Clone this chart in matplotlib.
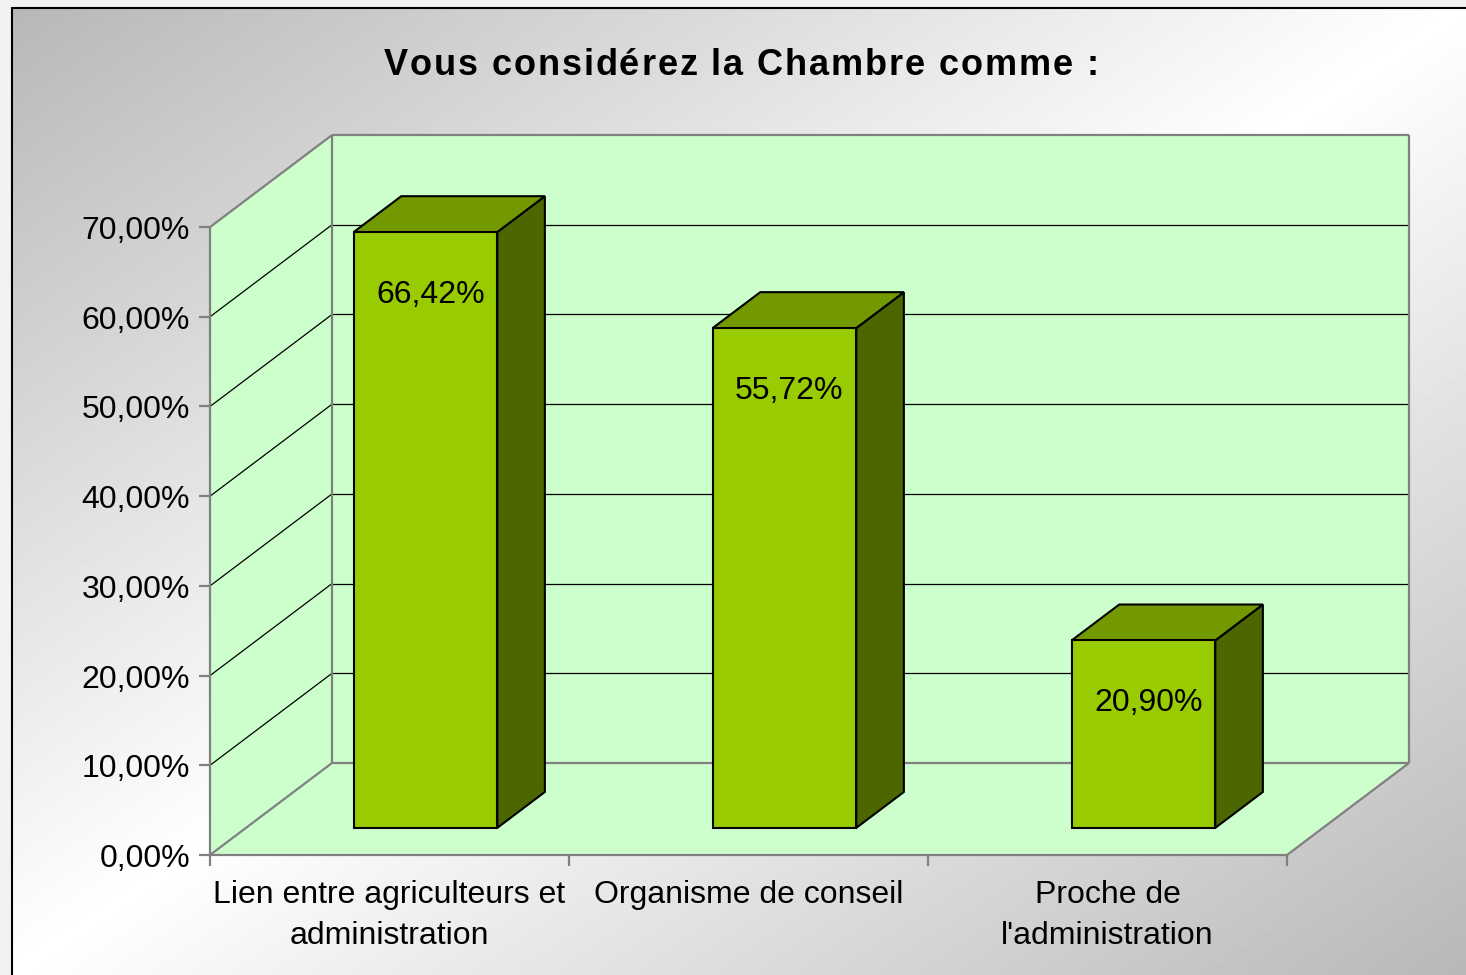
import numpy as np
import matplotlib.pyplot as plt
from matplotlib.patches import Polygon, Rectangle

plt.rcParams['font.family'] = ['Liberation Sans', 'DejaVu Sans']

title = "Vous considérez la Chambre comme :"
categories = ["Lien entre agriculteurs et\nadministration",
              "Organisme de conseil",
              "Proche de\nl'administration"]
values = [66.42, 55.72, 20.90]
value_labels = ["66,42%", "55,72%", "20,90%"]
ticks = [0, 10, 20, 30, 40, 50, 60, 70]
tick_labels = ["0,00%", "10,00%", "20,00%", "30,00%",
               "40,00%", "50,00%", "60,00%", "70,00%"]

W, H = 1466, 975
CAT_PX = 359.0          # pixels per category on the front plane
PCT_PX = 8.97           # pixels per percent
X0, Y0 = 210, 855       # pixel position of the origin (front plane)
DX, DY = 122 / CAT_PX, 92 / PCT_PX   # full depth offset, data units
VMAX = 70
N = len(categories)

WALL = "#ccffcc"
EDGE = "#808080"
FRONT, TOP, SIDE = "#99cc00", "#739900", "#4c6600"


def proj(x, v, d):
    return (x + d * DX, v + d * DY)


def seg(ax, a, b, **kw):
    ax.plot([a[0], b[0]], [a[1], b[1]], solid_capstyle='butt', **kw)


def face(ax, pts, color, z):
    ax.add_patch(Polygon(pts, closed=True, facecolor=color,
                         edgecolor='black', lw=1.5, joinstyle='miter', zorder=z))


fig = plt.figure(figsize=(W / 100, H / 100), dpi=100)
fig.patch.set_facecolor('#f2f2f2')
ax = fig.add_axes([0, 0, 1, 1])
ax.set_xlim(-X0 / CAT_PX, (W - X0) / CAT_PX)
ax.set_ylim(-(H - Y0) / PCT_PX, Y0 / PCT_PX)
ax.axis('off')

# background gradient inside the frame
xl, yl = ax.get_xlim(), ax.get_ylim()
fx0 = xl[0] + 12 / CAT_PX
fy1 = yl[1] - 8 / PCT_PX
GX, GY = np.meshgrid(np.linspace(0, 1, 300), np.linspace(0, 1, 200))
shade = 1 - 0.28 * np.abs((GX + GY) / 2 - 0.5) * 2
ax.imshow(shade, cmap='gray', vmin=0, vmax=1, origin='upper',
          extent=[fx0, xl[1], yl[0], fy1], aspect='auto', zorder=0,
          interpolation='bilinear')
ax.add_patch(Rectangle((fx0, yl[0] - 5), xl[1] - fx0 + 5, fy1 - yl[0] + 5,
                       fill=False, edgecolor='black', lw=1.5, zorder=1))

# walls and floor
ax.add_patch(Polygon([proj(0, 0, 1), proj(N, 0, 1), proj(N, VMAX, 1), proj(0, VMAX, 1)],
                     facecolor=WALL, edgecolor='none', zorder=2))
ax.add_patch(Polygon([proj(0, 0, 0), proj(0, 0, 1), proj(0, VMAX, 1), proj(0, VMAX, 0)],
                     facecolor=WALL, edgecolor='none', zorder=2))
ax.add_patch(Polygon([proj(0, 0, 0), proj(N, 0, 0), proj(N, 0, 1), proj(0, 0, 1)],
                     facecolor=WALL, edgecolor='none', zorder=2))

for t in ticks[1:-1]:
    seg(ax, proj(0, t, 0), proj(0, t, 1), color='black', lw=0.9, zorder=3)
    seg(ax, proj(0, t, 1), proj(N, t, 1), color='black', lw=0.9, zorder=3)

edges = [
    (proj(0, VMAX, 0), proj(0, VMAX, 1)),
    (proj(0, VMAX, 1), proj(N, VMAX, 1)),
    (proj(N, 0, 1), proj(N, VMAX, 1)),
    (proj(0, 0, 1), proj(0, VMAX, 1)),
    (proj(0, 0, 0), proj(0, 0, 1)),
    (proj(0, 0, 1), proj(N, 0, 1)),
    (proj(0, 0, 0), proj(N, 0, 0)),
    (proj(N, 0, 0), proj(N, 0, 1)),
    (proj(0, 0, 0), proj(0, VMAX, 0)),
]
for a, b in edges:
    seg(ax, a, b, color=EDGE, lw=1.6, zorder=4)

# axis ticks and labels
for t, lab in zip(ticks, tick_labels):
    seg(ax, (-11 / CAT_PX, t), (0, t), color=EDGE, lw=1.6, zorder=4)
    ax.text(-20 / CAT_PX, t - 4 / PCT_PX, lab, ha='right', va='center',
            fontsize=23, zorder=6)
for i in range(N + 1):
    seg(ax, (i, 0), (i, -11 / PCT_PX), color=EDGE, lw=1.6, zorder=4)
for i, cat in enumerate(categories):
    ax.text(i + 0.5, -(880 - Y0) / PCT_PX, cat, ha='center', va='top',
            fontsize=23, linespacing=1.47, zorder=6)

# bars
d0, d1 = 0.295, 0.685
for i, (v, lab) in enumerate(zip(values, value_labels)):
    x0, x1 = i + 0.3, i + 0.7
    face(ax, [proj(x1, 0, d0), proj(x1, 0, d1), proj(x1, v, d1), proj(x1, v, d0)], SIDE, 5)
    face(ax, [proj(x0, v, d0), proj(x1, v, d0), proj(x1, v, d1), proj(x0, v, d1)], TOP, 5)
    face(ax, [proj(x0, 0, d0), proj(x1, 0, d0), proj(x1, v, d0), proj(x0, v, d0)], FRONT, 5)
    cx, cy = proj((x0 + x1) / 2 + 5 / CAT_PX, v - 7.0, d0)
    ax.text(cx, cy, lab, ha='center', va='center', fontsize=23, zorder=6)

# title, drawn letter by letter to get the wide spacing of the original
renderer = fig.canvas.get_renderer()
tkw = dict(fontsize=26, fontweight='bold', ha='left', va='baseline')
probe_a = fig.text(0, 0, "a b", **tkw)
probe_b = fig.text(0, 0, "ab", **tkw)
space_w = (probe_a.get_window_extent(renderer).width
           - probe_b.get_window_extent(renderer).width)
probe_a.remove()
probe_b.remove()

spacing = 1.9
pieces, widths = [], []
for ch in title:
    if ch == " ":
        pieces.append(None)
        widths.append(space_w)
    else:
        t = fig.text(0, 0, ch, **tkw)
        pieces.append(t)
        widths.append(t.get_window_extent(renderer).width)
total = sum(widths) + spacing * (len(title) - 1)
x = 741 - total / 2
for p, w in zip(pieces, widths):
    if p is not None:
        p.set_position((x / W, 1 - 75 / H))
    x += w + spacing

fig.savefig("out.png", dpi=100)
